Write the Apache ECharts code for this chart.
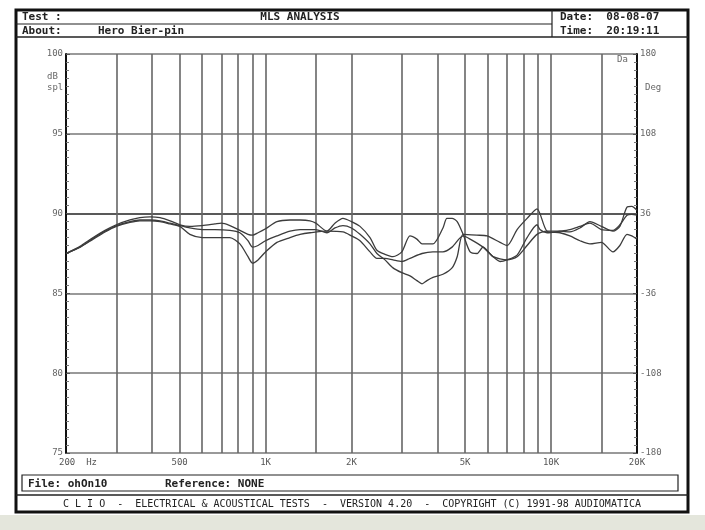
<!DOCTYPE html>
<html><head><meta charset="utf-8">
<script src="https://cdn.jsdelivr.net/npm/echarts@6/dist/echarts.min.js"></script>
<style>html,body{margin:0;padding:0;background:#fff}#c{width:705px;height:530px}</style>
</head><body><div id="c"></div>
<script>
// ---- data ----
const gridFreqs = [300,400,500,600,700,800,900,1000,1500,2000,3000,4000,5000,6000,7000,8000,9000,10000,15000];
const freqLabelValues = [200,500,1000,2000,5000,10000,20000];
const freqLabels = ['200  Hz','500','1K','2K','5K','10K','20K'];
const phaseLabels = ['-180','-108','-36','36','108','180'];

const s1Freq = [200,224,249,274,300,335,363,394,427,463,501,543,600,665,700,750,813,868,900,941,1000,1096,1218,1321,1431,1500,1641,1750,1867,2000,2142,2322,2455,2620,2795,3000,3205,3389,3532,3857,4182,4317,4500,4690,4920,5206,5508,5778,6266,7014,7604,8241,8930,9680,10747,11640,12620,13680,15000,16480,17420,18450,19180,20000];
const s1Db   = [87.5,87.95,88.5,88.95,89.3,89.6,89.75,89.8,89.75,89.55,89.3,89.2,89.25,89.35,89.4,89.25,88.95,88.7,88.65,88.8,89.05,89.5,89.6,89.6,89.55,89.4,88.9,89.4,89.7,89.5,89.2,88.5,87.7,87.45,87.3,87.6,88.6,88.4,88.1,88.1,89.1,89.7,89.7,89.5,88.7,87.6,87.5,87.9,87.3,87.1,87.3,88.0,88.7,88.9,88.9,88.85,89.1,89.5,89.2,88.9,89.2,90.4,90.45,90.2];

const s2Freq = [200,224,249,274,300,335,363,394,427,463,501,543,600,665,750,813,868,900,941,1000,1096,1218,1321,1431,1500,1641,1750,1867,2000,2142,2322,2455,2620,2795,3000,3205,3389,3532,3675,3857,4182,4500,4690,4920,5500,5970,6626,7014,7604,8241,8930,9680,10747,11640,12620,13680,15000,16480,17420,18450,19180,20000];
const s2Db   = [87.5,87.9,88.45,88.9,89.25,89.5,89.6,89.6,89.55,89.4,89.25,89.1,89.0,89.0,88.95,88.8,88.3,87.9,88.0,88.3,88.6,88.9,89.0,89.0,89.0,88.8,89.1,89.25,89.1,88.7,88.1,87.5,87.1,86.6,86.3,86.1,85.8,85.6,85.8,86.0,86.2,86.6,87.3,88.7,88.65,88.6,88.2,88.0,89.0,89.7,90.3,88.9,88.8,88.6,88.3,88.1,88.2,87.6,88.0,88.7,88.6,88.4];

const s3Freq = [200,224,249,274,300,335,363,394,427,463,501,543,600,700,750,813,868,900,941,1000,1096,1218,1321,1431,1641,1867,2000,2142,2322,2455,2620,2795,3000,3205,3532,3857,4182,4500,4920,5206,5778,6266,6626,7014,7604,8241,8930,9142,9680,10747,11640,12620,13680,15000,16480,17420,18450,19180,20000];
const s3Db   = [87.5,87.9,88.4,88.85,89.2,89.45,89.55,89.55,89.5,89.35,89.2,88.7,88.5,88.5,88.5,88.1,87.3,86.9,87.1,87.6,88.2,88.5,88.7,88.8,88.9,88.85,88.6,88.3,87.6,87.2,87.2,87.1,87.0,87.2,87.5,87.6,87.6,87.9,88.6,88.4,87.9,87.3,87.0,87.1,87.4,88.5,89.3,89.0,88.8,88.9,89.0,89.2,89.4,89.0,88.95,89.3,89.9,89.95,89.9];

const zip = (f, d) => f.map((v, i) => [v, d[i]]);

// ---- chart ----
const chart = echarts.init(document.getElementById('c'), null, {renderer: 'canvas'});
const MONO = '"DejaVu Sans Mono", "Liberation Mono", monospace';
const curveStyle = {color: '#3c3c3c', width: 1.3};

const txt = (x, y, text, size, opts) => Object.assign({
  type: 'text', x: x, y: y, silent: true,
  style: Object.assign({text: text, fill: '#222', font: 'bold ' + size + 'px ' + MONO, textVerticalAlign: 'middle'}, opts || {})
});
const line = (x1, y1, x2, y2, w, c) => ({type: 'line', silent: true, shape: {x1, y1, x2, y2}, style: {stroke: c || '#222', lineWidth: w || 1}});

const option = {
  animation: false,
  backgroundColor: '#ffffff',
  grid: {left: 66, top: 54, width: 571, height: 399, containLabel: false},
  xAxis: {
    type: 'log', logBase: 10, min: 200, max: 20000,
    axisLine: {show: false}, axisTick: {show: false}, axisLabel: {show: false},
    splitLine: {show: false}, minorSplitLine: {show: false}
  },
  yAxis: [{
    type: 'value', min: 75, max: 100, interval: 5, position: 'left',
    axisLine: {show: true, lineStyle: {color: '#111', width: 2}},
    axisTick: {show: true, inside: true, length: 4, lineStyle: {color: '#555'}},
    minorTick: {show: true, splitNumber: 10, length: 3, lineStyle: {color: '#777', width: 1}},
    axisLabel: {color: '#666', fontSize: 9, fontFamily: MONO, margin: 3},
    splitLine: {show: true, lineStyle: {color: ['#777', '#777', '#777', '#222', '#777', '#777'], width: 1.6}}
  }, {
    type: 'value', min: 0, max: 360, interval: 72, position: 'right',
    axisLine: {show: true, lineStyle: {color: '#111', width: 2}},
    axisTick: {show: true, inside: true, length: 4, lineStyle: {color: '#555'}},
    minorTick: {show: true, splitNumber: 10, length: 3, lineStyle: {color: '#777', width: 1}},
    axisLabel: {color: '#666', fontSize: 9, fontFamily: MONO, margin: 3, formatter: v => phaseLabels[Math.round(v / 72)]},
    splitLine: {show: false}
  }],
  series: [
    {
      type: 'line', data: zip(s1Freq, s1Db), showSymbol: false, smooth: 0.25, lineStyle: curveStyle, z: 5,
      markLine: {
        silent: true, symbol: 'none', animation: false,
        lineStyle: {color: '#666', width: 1.6, type: 'solid'},
        label: {show: false},
        data: gridFreqs.map(f => ({xAxis: f}))
      }
    },
    {
      type: 'line', data: zip(s2Freq, s2Db), showSymbol: false, smooth: 0.25, lineStyle: curveStyle, z: 5,
      markLine: {
        silent: true, symbol: 'none', animation: false,
        lineStyle: {color: 'rgba(0,0,0,0)', width: 0},
        label: {show: true, position: 'start', distance: 5, color: '#555', fontSize: 9, fontFamily: MONO},
        data: freqLabelValues.map((f, i) => ({xAxis: f, label: i === 0
          ? {formatter: freqLabels[i], padding: [0, 0, 0, 24]}
          : {formatter: freqLabels[i]}}))
      }
    },
    {type: 'line', data: zip(s3Freq, s3Db), showSymbol: false, smooth: 0.25, lineStyle: curveStyle, z: 5}
  ],
  graphic: [
    {type: 'rect', silent: true, z: -10, shape: {x: 0, y: 515, width: 705, height: 15}, style: {fill: '#e4e6dc'}},
    {type: 'rect', silent: true, shape: {x: 16, y: 10, width: 672, height: 502}, style: {fill: 'none', stroke: '#111', lineWidth: 3}},
    line(16, 24, 552, 24, 1.2),
    line(16, 37, 688, 37, 1.5),
    line(552, 10, 552, 37, 1.2),
    txt(22, 17, 'Test :', 11),
    txt(300, 17, 'MLS ANALYSIS', 11, {textAlign: 'center'}),
    txt(22, 31, 'About:', 11),
    txt(98, 31, 'Hero Bier-pin', 11),
    txt(560, 17, 'Date:  08-08-07', 11),
    txt(560, 31, 'Time:  20:19:11', 11),
    txt(47, 77, 'dB', 9, {fill: '#666', font: '9px ' + MONO}),
    txt(47, 88, 'spl', 9, {fill: '#666', font: '9px ' + MONO}),
    txt(645, 88, 'Deg', 9, {fill: '#666', font: '9px ' + MONO}),
    txt(617, 60, 'Da', 9, {fill: '#666', font: '9px ' + MONO}),
    {type: 'rect', silent: true, shape: {x: 22, y: 475, width: 656, height: 16}, style: {fill: 'none', stroke: '#222', lineWidth: 1.2}},
    txt(28, 484, 'File: ohOn10', 11),
    txt(165, 484, 'Reference: NONE', 11),
    line(16, 495, 688, 495, 1.5),
    txt(352, 504, 'C L I O  -  ELECTRICAL & ACOUSTICAL TESTS  -  VERSION 4.20  -  COPYRIGHT (C) 1991-98 AUDIOMATICA', 10, {textAlign: 'center', font: '10px ' + MONO})
  ]
};
chart.setOption(option);
</script>
</body></html>
